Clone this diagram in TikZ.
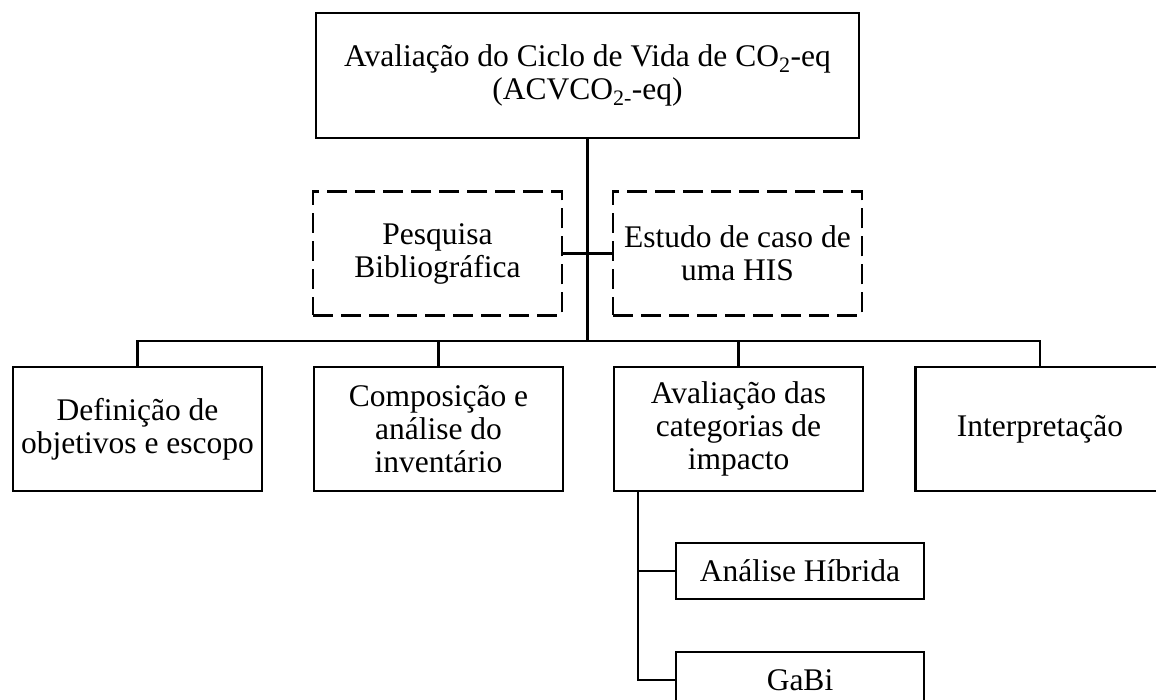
\documentclass[tikz,border=0pt]{standalone}
\usepackage{fontspec}
\setmainfont{Liberation Serif}
\usetikzlibrary{positioning}

\begin{document}
\begin{tikzpicture}[x=1pt, y=-1pt,
    box/.style={draw, line width=2.4pt, align=center, inner sep=0pt,
        minimum width=249pt, minimum height=124pt,
        font=\fontsize{31.5}{33}\selectfont},
    dbox/.style={box, dash pattern=on 20pt off 8pt},
    subbox/.style={box, minimum width=248pt, minimum height=56pt},
    link/.style={line width=2.4pt}]

    % Page size of the reference
    \clip (0,0) rectangle (1156,700);

    % Main box
    \node[box, minimum width=543pt, minimum height=125pt] (acv) at (587.5,75.5)
        {\raisebox{-4pt}{Avaliação do Ciclo de Vida de CO\textsubscript{2}-eq}\\\raisebox{-4pt}{(ACVCO\textsubscript{2-}-eq)}};

    % Dashed boxes
    \node[dbox] (pesquisa) at (437.5,253.5) {Pesquisa\\Bibliográfica};
    \node[dbox] (estudo) at (737.5,253.5) {Estudo de caso de\\uma HIS};

    % Phases
    \node[box] (objetivos) at (137.5,429) {Definição de\\objetivos e escopo};
    \node[box] (inventario) at (438.5,429) {Composição e\\análise do\\inventário};
    \node[box] (impacto) at (738.5,429) {Avaliação das\\categorias de\\impacto};
    \node[box] (interpretacao) at (1040,429) {Interpretação};

    % Tools
    \node[subbox] (hibrida) at (800,571) {Análise Híbrida};
    \node[subbox] (gabi) at (800,680) {GaBi};

    % Draw connectors
    \coordinate (bus) at (587.5,341);
    \coordinate (tap) at ([xshift=25pt]impacto.south west);
    \draw[link] (acv.south) -- (bus);
    \draw[link] (pesquisa.east) -- (estudo.west);
    \draw[link] (objetivos.north) -- (objetivos.north |- bus) -- (interpretacao.north |- bus) -- (interpretacao.north);
    \draw[link] (inventario.north) -- (inventario.north |- bus);
    \draw[link] (impacto.north) -- (impacto.north |- bus);
    \draw[link] (tap) |- (gabi.west);
    \draw[link] (tap |- hibrida.west) -- (hibrida.west);
\end{tikzpicture}
\end{document}
